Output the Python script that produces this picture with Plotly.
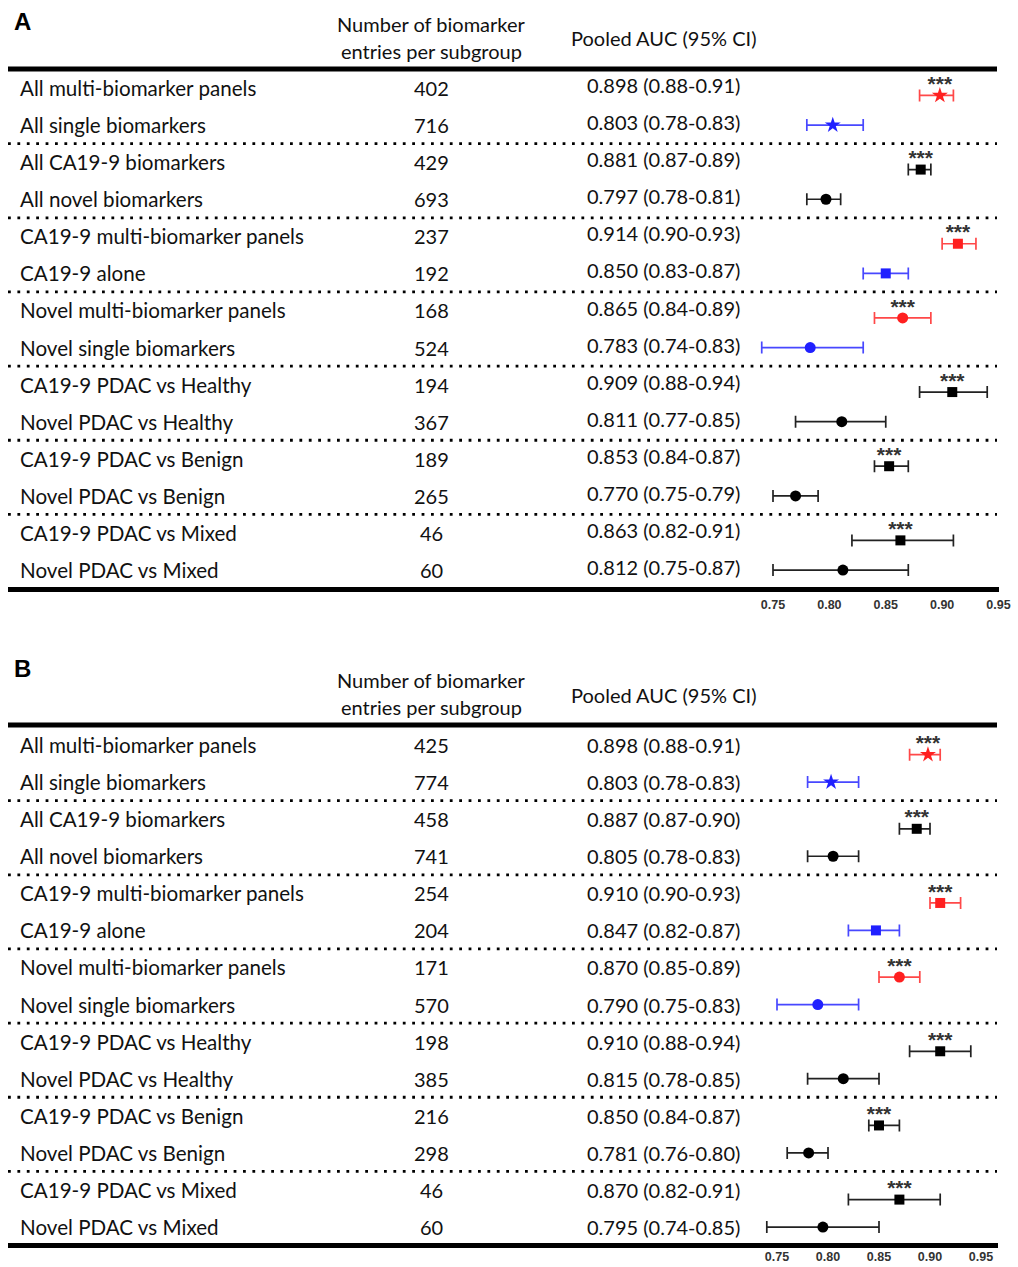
import plotly.graph_objects as go

# ---------------- data ----------------
labels = ["All multi-biomarker panels", "All single biomarkers",
          "All CA19-9 biomarkers", "All novel biomarkers",
          "CA19-9 multi-biomarker panels", "CA19-9 alone",
          "Novel multi-biomarker panels", "Novel single biomarkers",
          "CA19-9 PDAC vs Healthy", "Novel PDAC vs Healthy",
          "CA19-9 PDAC vs Benign", "Novel PDAC vs Benign",
          "CA19-9 PDAC vs Mixed", "Novel PDAC vs Mixed"]

n_A = [402, 716, 429, 693, 237, 192, 168, 524, 194, 367, 189, 265, 46, 60]
auc_A = [0.898, 0.803, 0.881, 0.797, 0.914, 0.850, 0.865, 0.783, 0.909, 0.811, 0.853, 0.770, 0.863, 0.812]
lo_A = [0.88, 0.78, 0.87, 0.78, 0.90, 0.83, 0.84, 0.74, 0.88, 0.77, 0.84, 0.75, 0.82, 0.75]
hi_A = [0.91, 0.83, 0.89, 0.81, 0.93, 0.87, 0.89, 0.83, 0.94, 0.85, 0.87, 0.79, 0.91, 0.87]

n_B = [425, 774, 458, 741, 254, 204, 171, 570, 198, 385, 216, 298, 46, 60]
auc_B = [0.898, 0.803, 0.887, 0.805, 0.910, 0.847, 0.870, 0.790, 0.910, 0.815, 0.850, 0.781, 0.870, 0.795]
lo_B = [0.88, 0.78, 0.87, 0.78, 0.90, 0.82, 0.85, 0.75, 0.88, 0.78, 0.84, 0.76, 0.82, 0.74]
hi_B = [0.91, 0.83, 0.90, 0.83, 0.93, 0.87, 0.89, 0.83, 0.94, 0.85, 0.87, 0.80, 0.91, 0.85]

significant = [True, False] * 7
tick_vals = [0.75, 0.80, 0.85, 0.90, 0.95]
tick_text = ["0.75", "0.80", "0.85", "0.90", "0.95"]
header_count = ["Number of biomarker", "entries per subgroup"]
header_auc = "Pooled AUC (95% CI)"

# ---------------- styles ----------------
RED, BLUE, BLACK = "#ff2020", "#2020ff", "#000000"
row_styles = [("star", RED), ("star", BLUE), ("square", BLACK), ("circle", BLACK),
              ("square", RED), ("square", BLUE), ("circle", RED), ("circle", BLUE),
              ("square", BLACK), ("circle", BLACK), ("square", BLACK), ("circle", BLACK),
              ("square", BLACK), ("circle", BLACK)]
sym_size = {"star": 12, "square": 10, "circle": 11}
err_col = {RED: "rgba(255,40,40,0.85)", BLUE: "rgba(40,40,255,0.85)", BLACK: "#222222"}

W, H = 1018, 1267
ROW = 37.08
TXT_FONT = dict(family="Lato", size=20, color="#111111")
LBL_FONT = dict(family="Lato", size=20.6, color="#111111")

panels = [
    dict(name="A", n=n_A, auc=auc_A, lo=lo_A, hi=hi_A, row0=88, top=0, bot=587,
         x075=773, ppu=1127.5, x_lo=8, x_hi=999, xa="x", ya="y", mk_off=0.2, auc_dy=-0.08,
         letter_y=21, head1=24, head2=51, headauc=38, hline=69, standoff=2),
    dict(name="B", n=n_B, auc=auc_B, lo=lo_B, hi=hi_B, row0=745, top=640, bot=1243,
         x075=777, ppu=1020, x_lo=8, x_hi=998, xa="x2", ya="y2", mk_off=0.26, auc_dy=0.0,
         letter_y=668, head1=680, head2=707, headauc=695, hline=725, standoff=-2),
]

fig = go.Figure()
annotations = []
shapes = []
layout_axes = {}

for k, p in enumerate(panels):
    def prow(pix, p=p):
        return (pix - p["row0"]) / ROW

    xr = [0.75 - (p["x075"] - p["x_lo"]) / p["ppu"], 0.75 + (p["x_hi"] - p["x075"]) / p["ppu"]]
    yr = [prow(p["bot"]), prow(p["top"])]
    sfx = "" if k == 0 else "2"
    layout_axes["xaxis" + sfx] = dict(
        domain=[p["x_lo"] / W, p["x_hi"] / W], range=xr, anchor=p["ya"], automargin=False,
        showgrid=False, zeroline=False, showline=True, linewidth=5, linecolor="black",
        tickvals=tick_vals, ticktext=tick_text, ticks="",
        tickfont=dict(family="Liberation Sans", size=12.5, color="#333333", weight="bold"),
        ticklabelstandoff=p["standoff"])
    layout_axes["yaxis" + sfx] = dict(
        domain=[1 - p["bot"] / H, 1 - p["top"] / H], range=yr, anchor=p["xa"], automargin=False,
        visible=False, showgrid=False, zeroline=False)

    # markers + error bars
    for i in range(len(labels)):
        sym, col = row_styles[i]
        yv = i + (p["mk_off"] if significant[i] else 0)
        fig.add_trace(go.Scatter(
            x=[p["auc"][i]], y=[yv], xaxis=p["xa"], yaxis=p["ya"], mode="markers",
            marker=dict(symbol=sym, size=sym_size[sym], color=col, line=dict(width=0)),
            error_x=dict(type="data", symmetric=False,
                         array=[p["hi"][i] - p["auc"][i]],
                         arrayminus=[p["auc"][i] - p["lo"][i]],
                         color=err_col[col], thickness=1.7, width=6),
            showlegend=False, hoverinfo="skip"))
    # significance stars
    sx = [p["auc"][i] for i in range(len(labels)) if significant[i]]
    sy = [i + p["mk_off"] - 0.26 for i in range(len(labels)) if significant[i]]
    fig.add_trace(go.Scatter(
        x=sx, y=sy, xaxis=p["xa"], yaxis=p["ya"], mode="text", text=["***"] * len(sx),
        textposition="middle center",
        textfont=dict(family="Liberation Sans", size=21, color="#333333", weight="bold"),
        showlegend=False, hoverinfo="skip"))

    # row texts
    for i, lab in enumerate(labels):
        annotations.append(dict(x=18 / W, y=i, xref="paper", yref=p["ya"], text=lab,
                                xanchor="left", yanchor="middle", showarrow=False, font=LBL_FONT))
        annotations.append(dict(x=431 / W, y=i, xref="paper", yref=p["ya"], text=str(p["n"][i]),
                                xanchor="center", yanchor="middle", showarrow=False, font=TXT_FONT))
        annotations.append(dict(x=663 / W, y=i + p["auc_dy"], xref="paper", yref=p["ya"],
                                text=f"{p['auc'][i]:.3f} ({p['lo'][i]:.2f}-{p['hi'][i]:.2f})",
                                xanchor="center", yanchor="middle", showarrow=False, font=TXT_FONT))
    # headers
    annotations.append(dict(x=22 / W, y=prow(p["letter_y"]), xref="paper", yref=p["ya"], text=p["name"],
                            xanchor="center", yanchor="middle", showarrow=False,
                            font=dict(family="Liberation Sans", size=24, color="black", weight="bold")))
    annotations.append(dict(x=431 / W, y=prow(p["head1"]), xref="paper", yref=p["ya"], text=header_count[0],
                            xanchor="center", yanchor="middle", showarrow=False, font=TXT_FONT))
    annotations.append(dict(x=431 / W, y=prow(p["head2"]), xref="paper", yref=p["ya"], text=header_count[1],
                            xanchor="center", yanchor="middle", showarrow=False, font=TXT_FONT))
    annotations.append(dict(x=663 / W, y=prow(p["headauc"]), xref="paper", yref=p["ya"], text=header_auc,
                            xanchor="center", yanchor="middle", showarrow=False, font=TXT_FONT))
    # header rule
    shapes.append(dict(type="line", xref="paper", yref=p["ya"], x0=8 / W, x1=997 / W,
                       y0=prow(p["hline"]), y1=prow(p["hline"]), line=dict(color="black", width=5)))
    # dotted separators between pairs
    for j in range(1, 7):
        yv = 2 * j - 0.5
        shapes.append(dict(type="line", xref="paper", yref=p["ya"], x0=8 / W, x1=997 / W,
                           y0=yv, y1=yv, line=dict(color="black", width=2.8, dash="2.8px,6.6px")))

fig.update_layout(
    width=W, height=H, autosize=False,
    margin=dict(l=0, r=0, t=0, b=0, pad=0, autoexpand=False),
    paper_bgcolor="white", plot_bgcolor="white",
    showlegend=False, annotations=annotations, shapes=shapes, **layout_axes)

fig.write_html("out.html", config={"responsive": False})
